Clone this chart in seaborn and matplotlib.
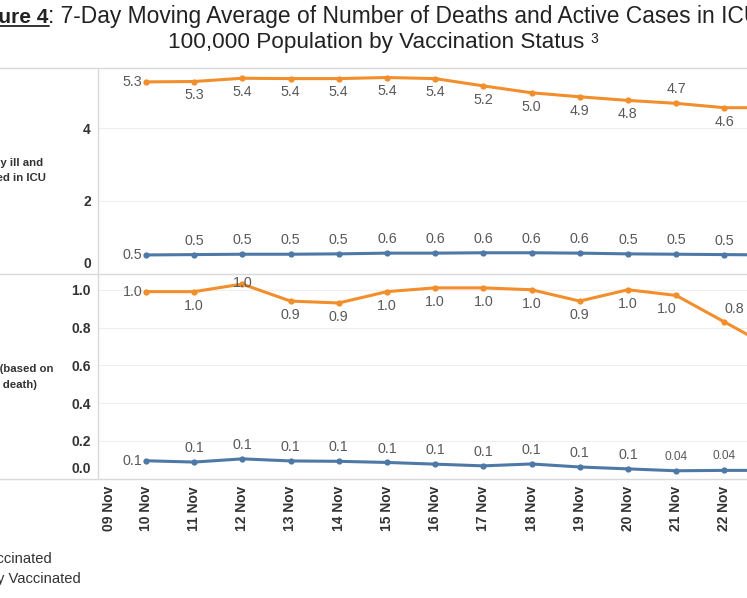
import numpy as np
import matplotlib
matplotlib.use("Agg")
import matplotlib.pyplot as plt
import seaborn as sns
from matplotlib.lines import Line2D

# ---------------------------------------------------------------------------
# Data
# ---------------------------------------------------------------------------
dates = ["09 Nov", "10 Nov", "11 Nov", "12 Nov", "13 Nov", "14 Nov", "15 Nov",
         "16 Nov", "17 Nov", "18 Nov", "19 Nov", "20 Nov", "21 Nov", "22 Nov",
         "23 Nov"]
# series start on 10 Nov
icu_unvaccinated = [5.27, 5.28, 5.37, 5.36, 5.36, 5.39, 5.36, 5.16, 4.97, 4.86,
                    4.76, 4.68, 4.56, 4.56]
icu_vaccinated = [0.51, 0.52, 0.53, 0.53, 0.54, 0.56, 0.56, 0.57, 0.57, 0.56,
                  0.54, 0.53, 0.52, 0.51]
deaths_unvaccinated = [0.99, 0.99, 1.03, 0.94, 0.93, 0.99, 1.01, 1.01, 1.00,
                       0.94, 1.00, 0.97, 0.83, 0.69]
deaths_vaccinated = [0.095, 0.088, 0.105, 0.094, 0.092, 0.086, 0.077, 0.068,
                     0.078, 0.062, 0.052, 0.042, 0.044, 0.044]
icu_ticks = [0, 2, 4]
death_ticks = [0.0, 0.2, 0.4, 0.6, 0.8, 1.0]

ORANGE = "#F28E2B"
BLUE = "#4E79A7"
LABEL_GREY = "#595959"
DARK = "#333333"
DIVIDER = "#D9D9D9"

W, H = 747, 598


def fx(x):
    return x / W


def fy(y):
    return 1 - y / H


def label_text(v):
    return f"{v:.2f}" if v < 0.05 else f"{v:.1f}"


def draw_series(ax, values, color, side, exceptions):
    pos = np.arange(1, len(values) + 1)
    sns.lineplot(x=pos, y=values, ax=ax, color=color, linewidth=2.2,
                 marker="o", markersize=4.5, markeredgecolor=color,
                 markeredgewidth=0, legend=False, zorder=3)
    for i, (p, v) in enumerate(zip(pos, values)):
        size = 8.6 if v < 0.05 else 10.3
        if i == 0:
            ax.annotate(label_text(v), (p, v), xytext=(-2.5, 0),
                        textcoords="offset points", ha="right", va="center",
                        fontsize=size, color=LABEL_GREY, annotation_clip=False)
            continue
        dx, dy = exceptions.get(dates[p], (0, 10 if side == "above" else -10))
        ax.annotate(label_text(v), (p, v), xytext=(dx, dy),
                    textcoords="offset points", ha="center", va="center",
                    fontsize=size, color=LABEL_GREY, annotation_clip=False)


sns.set_theme(style="white")
plt.rcParams["font.family"] = ["Liberation Sans", "DejaVu Sans"]

fig = plt.figure(figsize=(W / 100, H / 100), dpi=100)

left, right = 97.7, 796.6
ax_icu = fig.add_axes([fx(left), fy(273.5), fx(right) - fx(left), (273.5 - 67.7) / H])
ax_death = fig.add_axes([fx(left), fy(478.7), fx(right) - fx(left), (478.7 - 273.5) / H])

draw_series(ax_icu, icu_unvaccinated, ORANGE, "below", {"21 Nov": (0, 10)})
draw_series(ax_icu, icu_vaccinated, BLUE, "above", {})
draw_series(ax_death, deaths_unvaccinated, ORANGE, "below",
            {"12 Nov": (0, 1), "21 Nov": (-7, -10), "22 Nov": (7, 9.5)})
draw_series(ax_death, deaths_vaccinated, BLUE, "above", {})

for ax, ticks, top in [(ax_icu, icu_ticks, 5.66), (ax_death, death_ticks, 1.086)]:
    ax.set_xlim(0, 14.5)
    ax.set_ylim(0, top)
    ax.set_yticks(ticks)
    fmt = "{:.0f}" if ax is ax_icu else "{:.1f}"
    # zero label sits a little above the pane floor, drawn separately below
    ax.set_yticklabels([""] + [fmt.format(t) for t in ticks[1:]])
    ax.tick_params(axis="y", length=0, pad=5, labelsize=10, labelcolor=DARK)
    for lbl in ax.get_yticklabels():
        lbl.set_fontweight("bold")
    ax.annotate(fmt.format(0), (0, 0), xycoords=ax.get_yaxis_transform(),
                xytext=(-5, 6.8), textcoords="offset points", ha="right",
                va="center", fontsize=10, fontweight="bold", color=DARK,
                annotation_clip=False)
    ax.grid(axis="y", color="#EFEFEF", linewidth=0.8)
    ax.grid(axis="x", visible=False)
    for s in ["top", "right", "bottom"]:
        ax.spines[s].set_visible(False)
    ax.spines["left"].set_color(DIVIDER)
    ax.spines["left"].set_linewidth(1)
    ax.set_xlabel("")
    ax.set_ylabel("")

ax_icu.set_xticks([])
ax_death.set_xticks(range(len(dates)))
ax_death.set_xticklabels([""] + dates[1:], rotation=90, rotation_mode="anchor",
                         ha="left", va="center", fontweight="bold",
                         fontsize=10, color=DARK)
ax_death.tick_params(axis="x", length=0, pad=37.7)
ax_death.annotate(dates[0], (0, 0), xycoords=ax_death.get_xaxis_transform(),
                  xytext=(8.3, -37.7), textcoords="offset points", rotation=90,
                  rotation_mode="anchor", ha="left", va="center",
                  fontweight="bold", fontsize=10, color=DARK,
                  annotation_clip=False)

# pane dividers running across the whole width
for y in [67.7, 273.5, 478.7]:
    fig.add_artist(Line2D([0, 1], [fy(y), fy(y)], transform=fig.transFigure,
                          color=DIVIDER, linewidth=1))

# row headers (cut by the left edge as in the source)
hdr = dict(ha="right", va="center", fontsize=8.2, fontweight="bold", color=DARK)
fig.text(fx(43), fy(163), "Critically ill and", **hdr)
fig.text(fx(46), fy(178), "admitted in ICU", **hdr)
fig.text(fx(53.5), fy(369), "population (based on", **hdr)
fig.text(fx(37.3), fy(385), "date of death)", **hdr)

# legend entries
leg = dict(ha="right", va="center", fontsize=10.6, color=DARK)
fig.text(fx(52.3), fy(559.3), "Unvaccinated", **leg)
fig.text(fx(81), fy(579), "Fully Vaccinated", **leg)

# title
fig_no = fig.text(fx(48.5), fy(22.7), "Figure 4", ha="right", va="baseline",
                  fontsize=15, fontweight="bold", color="#222222")
fig.text(fx(48.5), fy(22.7),
         ": 7-Day Moving Average of Number of Deaths and Active Cases in ICU per",
         ha="left", va="baseline", fontsize=16.4, color="#222222")
line2 = fig.text(fx(168), fy(48.3), "100,000 Population by Vaccination Status",
                 ha="left", va="baseline", fontsize=16.2, color="#222222")

fig.canvas.draw()
bb = fig_no.get_window_extent()
uy = fy(26)
fig.add_artist(Line2D([bb.x0 / W, bb.x1 / W], [uy, uy], transform=fig.transFigure,
                      color="#222222", linewidth=1.3))
bb2 = line2.get_window_extent()
fig.text((bb2.x1 + 6) / W, fy(43), "3", ha="left", va="baseline",
         fontsize=10, color="#222222")

fig.savefig("out.png", dpi=100)
